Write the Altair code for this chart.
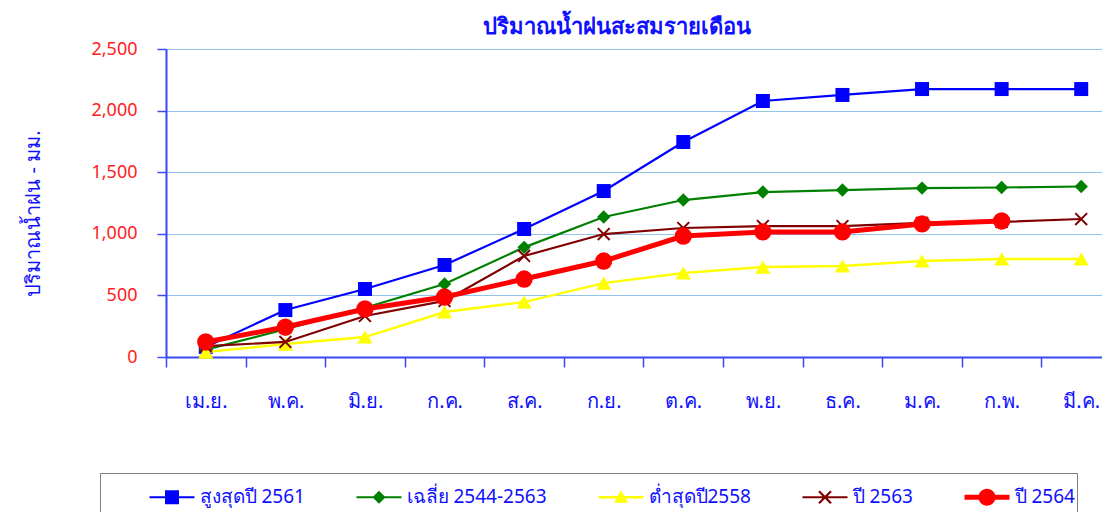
import math
import altair as alt
import pandas as pd

# ---------------- data ----------------
months = ["เม.ย.", "พ.ค.", "มิ.ย.", "ก.ค.", "ส.ค.", "ก.ย.",
          "ต.ค.", "พ.ย.", "ธ.ค.", "ม.ค.", "ก.พ.", "มี.ค."]
names = ["สูงสุดปี 2561", "เฉลี่ย 2544-2563", "ต่ำสุดปี2558", "ปี 2563", "ปี 2564"]

max_2561 = [82, 381, 552, 747, 1039, 1347, 1745, 2078, 2127, 2175, 2175, 2175]
avg_2544_2563 = [60, 225, 400, 592, 890, 1136, 1274, 1339, 1355, 1371, 1376, 1384]
min_2558 = [40, 105, 162, 365, 446, 600, 682, 730, 739, 779, 795, 795]
year_2563 = [88, 122, 333, 455, 820, 998, 1047, 1063, 1063, 1088, 1096, 1120]
year_2564 = [122, 243, 390, 487, 633, 779, 982, 1015, 1015, 1080, 1104]

series_values = [max_2561, avg_2544_2563, min_2558, year_2563, year_2564]

rows = []
for name, vals in zip(names, series_values):
    for m, v in zip(months, vals):
        rows.append({"series": name, "month": m, "value": v})
df = pd.DataFrame(rows)

# ---------------- styles ----------------
FONT = "Noto Sans"
BLUE_TXT = "#1010ff"
AXIS_BLUE = "#3848f4"
colors = ["#0000ff", "#008000", "#ffff00", "#800000", "#ff0000"]
line_widths = [2.2, 2.2, 2.4, 2.2, 5]
X_PATH = "M-1,-1L1,1M-1,1L1,-1"
point_shapes = ["square", "diamond", "triangle-up", X_PATH, "circle"]
point_sizes = [196, 180, 230, 140, 300]
point_filled = [True, True, True, False, True]

# legend symbol paths (unit = half of a 45px box)
U = 1 / 22.5


def f(v):
    return f"{v:.4f}"


def rect(h):
    return f"M-1,{f(-h)}H1V{f(h)}H-1Z"


def square(s):
    return f"M{f(-s)},{f(-s)}H{f(s)}V{f(s)}H{f(-s)}Z"


def diamond(d):
    return f"M0,{f(-d)}L{f(d)},0L0,{f(d)}L{f(-d)},0Z"


def triangle(w, ht, hb):
    return f"M0,{f(-ht)}L{f(w)},{f(hb)}L{f(-w)},{f(hb)}Z"


def circle(r):
    return f"M{f(-r)},0A{f(r)},{f(r)} 0 1,1 {f(r)},0A{f(r)},{f(r)} 0 1,1 {f(-r)},0Z"


def poly(pts):
    area = sum(pts[i][0] * pts[(i + 1) % len(pts)][1] - pts[(i + 1) % len(pts)][0] * pts[i][1]
               for i in range(len(pts)))
    if area < 0:
        pts = pts[::-1]
    return "M" + "L".join(f"{f(x)},{f(y)}" for x, y in pts) + "Z"


def xmark(a, h):
    p = h / math.sqrt(2)
    arm1 = [(-a + p, -a - p), (a + p, a - p), (a - p, a + p), (-a - p, -a + p)]
    arm2 = [(-a - p, a - p), (a - p, -a - p), (a + p, -a + p), (-a + p, a + p)]
    return poly(arm1) + poly(arm2)


legend_paths = [
    rect(1.1 * U) + square(7 * U),
    rect(1.1 * U) + diamond(6.5 * U),
    rect(1.2 * U) + triangle(7 * U, 7 * U, 5.5 * U),
    rect(1.1 * U) + xmark(6 * U, 1.1 * U),
    rect(2.4 * U) + circle(8.5 * U),
]

# ---------------- encodings ----------------
x_enc = alt.X(
    "month:N",
    sort=months,
    scale=alt.Scale(type="band", domain=months, range=[0, 955], paddingInner=0, paddingOuter=0),
    axis=alt.Axis(
        title=None, tickBand="extent", labelAngle=0, labelFont=FONT, labelFontSize=20,
        labelColor=BLUE_TXT, labelBaseline="alphabetic", labelPadding=40, tickSize=10,
        tickColor=AXIS_BLUE, tickWidth=1.5, domainColor=AXIS_BLUE, domainWidth=2, grid=False,
    ),
)
y_enc = alt.Y(
    "value:Q",
    scale=alt.Scale(domain=[0, 2500]),
    axis=alt.Axis(
        values=[0, 500, 1000, 1500, 2000, 2500], format=",.0f", title="ปริมาณน้ำฝน - มม.",
        labelFont=FONT, labelFontSize=18, labelColor="#ff2020", labelPadding=20, tickSize=9,
        tickColor=AXIS_BLUE, tickWidth=1.5, domainColor=AXIS_BLUE, domainWidth=2,
        grid=True, gridColor="#2286d8", gridDash=[1, 1], gridWidth=1,
        titleFont=FONT, titleFontSize=20, titleFontWeight="normal", titleColor=BLUE_TXT,
        titleAngle=270, titleX=-133, titleY=164, titleAlign="center", titleBaseline="middle",
    ),
)

layers = []
for i, name in enumerate(names):
    base = alt.Chart(df).transform_filter(alt.datum.series == name)
    layers.append(base.mark_line(color=colors[i], strokeWidth=line_widths[i]).encode(x=x_enc, y=y_enc))
    if point_filled[i]:
        pm = base.mark_point(shape=point_shapes[i], size=point_sizes[i], filled=True,
                             color=colors[i], opacity=1)
    else:
        pm = base.mark_point(shape=point_shapes[i], size=point_sizes[i], filled=False,
                             color=colors[i], strokeWidth=2, opacity=1)
    layers.append(pm.encode(x=x_enc, y=y_enc))

NBSP = "\u00a0" * 14
leg = alt.Legend(
    orient="none", legendX=-66, legendY=424, direction="horizontal", columns=5,
    columnPadding=51, padding=1.5, strokeColor="#7f7f7f", fillColor="white",
    symbolSize=2025, symbolStrokeWidth=0, labelFont=FONT, labelFontSize=19,
    labelColor=BLUE_TXT, labelOffset=5, labelLimit=600,
    labelExpr="datum.value == '" + names[-1] + "' ? datum.label + '" + NBSP + "' : datum.label",
    title=" ", titleOrient="left", titleFont=FONT, titleFontSize=70, titleBaseline="top",
    titlePadding=48,
)
legend_layer = alt.Chart(df).transform_filter("datum.value < -100000").mark_point(
    filled=True, opacity=1
).encode(
    x=x_enc, y=y_enc,
    color=alt.Color("series:N", scale=alt.Scale(domain=names, range=colors), legend=leg),
    shape=alt.Shape("series:N", scale=alt.Scale(domain=names, range=legend_paths), legend=leg),
)
layers.append(legend_layer)

chart = alt.layer(*layers).properties(
    width=936,
    height=308,
    title=alt.TitleParams(
        "ปริมาณน้ำฝนสะสมรายเดือน", font=FONT, fontSize=22, fontWeight="bold",
        color="#1010ff", anchor="middle", dx=-17, offset=1,
    ),
    autosize=alt.AutoSizeParams(type="none"),
    padding={"left": 158, "top": 41, "right": 0, "bottom": 155},
    background="white",
).configure_view(stroke="transparent")

chart.save("out.html", embed_options={"renderer": "svg", "actions": False})
